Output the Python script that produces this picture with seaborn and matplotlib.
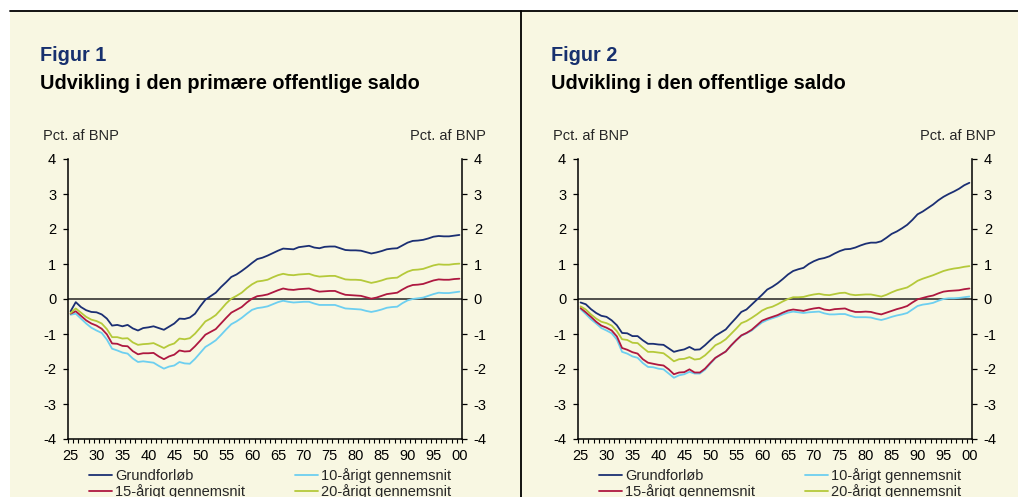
import numpy as np
import pandas as pd
import matplotlib
matplotlib.use("Agg")
import matplotlib.pyplot as plt
from matplotlib.patches import Rectangle
from matplotlib.lines import Line2D
from matplotlib.ticker import FixedLocator
import seaborn as sns

# ---------------- data ----------------
years = list(range(2025, 2101))
tick_years = [2025, 2030, 2035, 2040, 2045, 2050, 2055, 2060, 2065, 2070,
              2075, 2080, 2085, 2090, 2095, 2100]
tick_labels = ["25", "30", "35", "40", "45", "50", "55", "60", "65", "70",
               "75", "80", "85", "90", "95", "00"]
y_ticks = [-4, -3, -2, -1, 0, 1, 2, 3, 4]
y_labels = ["-4", "-3", "-2", "-1", "0", "1", "2", "3", "4"]

series_names = ["Grundforløb", "10-årigt gennemsnit", "15-årigt gennemsnit", "20-årigt gennemsnit"]
series_colors = ["#1B2F73", "#6DCFF0", "#AE1840", "#B5C93A"]

titles = ["Udvikling i den primære offentlige saldo", "Udvikling i den offentlige saldo"]
fig_labels = ["Figur 1", "Figur 2"]
unit_label = "Pct. af BNP"

# Figur 1: primary balance
p1_grund = [-0.35, -0.09, -0.23, -0.32, -0.37, -0.38, -0.44, -0.56, -0.76, -0.74,
            -0.78, -0.74, -0.84, -0.90, -0.83, -0.81, -0.78, -0.83, -0.88, -0.79,
            -0.70, -0.56, -0.57, -0.53, -0.42, -0.21, -0.02, 0.08, 0.18, 0.34,
            0.48, 0.63, 0.70, 0.80, 0.91, 1.03,
            1.14, 1.18, 1.24, 1.31, 1.38, 1.44, 1.43, 1.42, 1.48, 1.50,
            1.52, 1.47, 1.45, 1.49, 1.50, 1.50, 1.45, 1.40, 1.39, 1.39,
            1.38, 1.34, 1.30, 1.33, 1.37, 1.42, 1.44, 1.45, 1.53, 1.61,
            1.66, 1.67, 1.69, 1.73, 1.78, 1.80, 1.79, 1.79, 1.81, 1.83]
p1_10 = [-0.45, -0.42, -0.56, -0.70, -0.82, -0.90, -0.97, -1.16, -1.42, -1.47,
         -1.53, -1.56, -1.70, -1.80, -1.78, -1.80, -1.82, -1.91, -1.99, -1.93,
         -1.90, -1.80, -1.84, -1.85, -1.71, -1.54, -1.37, -1.28, -1.18, -1.03,
         -0.87, -0.72, -0.64, -0.54, -0.42, -0.31,
         -0.26, -0.24, -0.21, -0.15, -0.09, -0.05, -0.08, -0.10, -0.09, -0.08,
         -0.08, -0.13, -0.17, -0.17, -0.17, -0.17, -0.22, -0.27, -0.28, -0.29,
         -0.30, -0.34, -0.37, -0.34, -0.30, -0.25, -0.23, -0.22, -0.12, -0.04,
         0.00, 0.02, 0.04, 0.09, 0.14, 0.18, 0.17, 0.17, 0.19, 0.21]
p1_15 = [-0.42, -0.35, -0.48, -0.61, -0.70, -0.76, -0.85, -1.01, -1.27, -1.28,
         -1.34, -1.35, -1.49, -1.58, -1.55, -1.55, -1.54, -1.64, -1.72, -1.64,
         -1.59, -1.47, -1.50, -1.49, -1.35, -1.19, -1.02, -0.94, -0.86, -0.70,
         -0.54, -0.39, -0.31, -0.23, -0.10, 0.01,
         0.08, 0.10, 0.13, 0.19, 0.25, 0.30, 0.27, 0.26, 0.28, 0.29,
         0.30, 0.25, 0.21, 0.22, 0.23, 0.23, 0.17, 0.12, 0.11, 0.10,
         0.09, 0.05, 0.01, 0.04, 0.09, 0.14, 0.16, 0.18, 0.27, 0.35,
         0.40, 0.41, 0.43, 0.48, 0.53, 0.56, 0.55, 0.55, 0.57, 0.58]
p1_20 = [-0.40, -0.27, -0.39, -0.51, -0.59, -0.63, -0.70, -0.86, -1.09, -1.09,
         -1.13, -1.12, -1.24, -1.31, -1.29, -1.28, -1.26, -1.33, -1.40, -1.32,
         -1.27, -1.13, -1.15, -1.12, -0.99, -0.82, -0.64, -0.56, -0.46, -0.30,
         -0.13, 0.01, 0.09, 0.18, 0.31, 0.42,
         0.50, 0.52, 0.55, 0.62, 0.68, 0.72, 0.69, 0.68, 0.70, 0.71,
         0.72, 0.67, 0.64, 0.65, 0.66, 0.66, 0.61, 0.56, 0.55, 0.55,
         0.54, 0.50, 0.46, 0.49, 0.53, 0.58, 0.60, 0.61, 0.70, 0.78,
         0.83, 0.84, 0.86, 0.91, 0.96, 0.99, 0.98, 0.98, 1.00, 1.01]

# Figur 2: total balance
p2_grund = [-0.10, -0.15, -0.29, -0.40, -0.48, -0.51, -0.61, -0.75, -0.97, -0.98,
            -1.06, -1.06, -1.18, -1.28, -1.28, -1.30, -1.31, -1.41, -1.51, -1.47,
            -1.44, -1.37, -1.45, -1.44, -1.32, -1.18, -1.05, -0.96, -0.87, -0.70,
            -0.54, -0.37, -0.30, -0.16, -0.02, 0.12,
            0.27, 0.35, 0.45, 0.57, 0.70, 0.80, 0.85, 0.89, 1.00, 1.08,
            1.14, 1.17, 1.22, 1.30, 1.37, 1.42, 1.43, 1.47, 1.53, 1.58,
            1.61, 1.61, 1.65, 1.75, 1.86, 1.93, 2.02, 2.12, 2.26, 2.42,
            2.50, 2.60, 2.70, 2.82, 2.92, 3.00, 3.07, 3.15, 3.25, 3.32]
p2_10 = [-0.29, -0.43, -0.58, -0.70, -0.83, -0.90, -0.98, -1.16, -1.51, -1.56,
         -1.64, -1.68, -1.83, -1.94, -1.95, -1.99, -2.01, -2.13, -2.25, -2.18,
         -2.15, -2.08, -2.13, -2.13, -2.02, -1.85, -1.69, -1.59, -1.50, -1.34,
         -1.18, -1.05, -0.98, -0.90, -0.78,
         -0.67, -0.60, -0.55, -0.50, -0.44, -0.39, -0.36, -0.38, -0.40, -0.38,
         -0.37, -0.36, -0.41, -0.44, -0.44, -0.43, -0.43, -0.48, -0.52, -0.52,
         -0.52, -0.53, -0.57, -0.60, -0.56, -0.51, -0.47, -0.44, -0.40, -0.30,
         -0.20, -0.16, -0.14, -0.11, -0.05, 0.00, 0.02, 0.02, 0.03, 0.05, 0.07]
p2_15 = [-0.26, -0.38, -0.51, -0.65, -0.76, -0.82, -0.90, -1.07, -1.40, -1.45,
         -1.52, -1.56, -1.72, -1.82, -1.85, -1.88, -1.90, -2.01, -2.15, -2.10,
         -2.09, -2.01, -2.10, -2.10, -1.99, -1.83, -1.68, -1.59, -1.50, -1.33,
         -1.18, -1.04, -0.97, -0.88, -0.75,
         -0.62, -0.56, -0.51, -0.46, -0.39, -0.33, -0.30, -0.32, -0.34, -0.30,
         -0.27, -0.25, -0.30, -0.32, -0.29, -0.28, -0.27, -0.33, -0.37, -0.37,
         -0.36, -0.37, -0.41, -0.44, -0.39, -0.34, -0.29, -0.25, -0.20, -0.10,
         -0.01, 0.03, 0.07, 0.10, 0.16, 0.21, 0.23, 0.24, 0.25, 0.28, 0.30]
p2_20 = [-0.21, -0.30, -0.44, -0.56, -0.65, -0.69, -0.76, -0.92, -1.15, -1.17,
         -1.25, -1.26, -1.39, -1.51, -1.51, -1.53, -1.55, -1.66, -1.78, -1.72,
         -1.71, -1.66, -1.73, -1.71, -1.61, -1.47, -1.32, -1.25, -1.15, -1.00,
         -0.85, -0.69, -0.63, -0.54, -0.44,
         -0.33, -0.26, -0.22, -0.15, -0.07, 0.00, 0.05, 0.05, 0.06, 0.10,
         0.13, 0.15, 0.12, 0.11, 0.14, 0.17, 0.18, 0.13, 0.11, 0.12,
         0.13, 0.13, 0.10, 0.07, 0.12, 0.19, 0.25, 0.29, 0.33, 0.42,
         0.52, 0.58, 0.63, 0.68, 0.74, 0.80, 0.84, 0.87, 0.89, 0.92, 0.94]

panels = [[p1_grund, p1_10, p1_15, p1_20], [p2_grund, p2_10, p2_15, p2_20]]

# ---------------- style ----------------
sns.set_theme(style="ticks")
plt.rcParams["font.family"] = ["Liberation Sans", "DejaVu Sans"]
plt.rcParams["axes.unicode_minus"] = False

W, H = 1018, 497
BG = "#F8F7E2"
FS = 10.5
fig = plt.figure(figsize=(W / 100, H / 100), dpi=100, facecolor="white")

# background and frame lines
fig.patches.append(Rectangle((10 / W, 0), 1 - 10 / W, 1 - 11 / H, transform=fig.transFigure,
                             facecolor=BG, edgecolor="none", zorder=-10))
fig.add_artist(Line2D([10 / W, 1], [1 - 11 / H, 1 - 11 / H], transform=fig.transFigure,
                      color="black", lw=1.3, zorder=-5))
fig.add_artist(Line2D([520.5 / W, 520.5 / W], [0, 1 - 11 / H], transform=fig.transFigure,
                      color="black", lw=1.3, zorder=-5))

ax_left_px = [68, 578]
ax_w_px = 394
ax_top_px, ax_bot_px = 159, 439
title_x_px = [40, 551]
unit_left_px = [43, 553]
unit_right_px = [486, 996]

for i in range(2):
    ax = fig.add_axes([ax_left_px[i] / W, 1 - ax_bot_px / H, ax_w_px / W,
                       (ax_bot_px - ax_top_px) / H])
    ax.set_facecolor("none")
    ax.set_zorder(2)
    df = pd.DataFrame({"year": years * 4,
                       "value": sum(panels[i], []),
                       "serie": sum([[n] * len(years) for n in series_names], [])})
    sns.lineplot(data=df, x="year", y="value", hue="serie", hue_order=series_names,
                 palette=series_colors, linewidth=1.3, ax=ax, legend=False, zorder=3)
    ax.axhline(0, color="#222222", lw=1.1, zorder=2)

    ax.set_xlim(2024.5, 2100.5)
    ax.set_ylim(-4, 4)
    ax.set_xlabel("")
    ax.set_ylabel("")
    ax.set_xticks(tick_years)
    ax.set_xticklabels(tick_labels, fontsize=FS, color="black")
    ax.xaxis.set_minor_locator(FixedLocator(np.arange(2024.5, 2101, 1.0)))
    ax.tick_params(axis="x", which="major", length=0, pad=7)
    ax.tick_params(axis="x", which="minor", length=3, width=0.8, color="black", direction="out")
    ax.set_yticks(y_ticks)
    ax.set_yticklabels(y_labels, fontsize=FS, color="black")
    ax.tick_params(axis="y", which="major", left=True, right=True, labelleft=True,
                   labelright=True, length=3.5, width=0.9, color="black", pad=5)
    for s in ["left", "right", "bottom"]:
        ax.spines[s].set_visible(True)
        ax.spines[s].set_color("black")
        ax.spines[s].set_linewidth(1.1)
    ax.spines["top"].set_visible(False)

    # titles
    fig.text(title_x_px[i] / W, 1 - 61 / H, fig_labels[i], fontsize=14.3, fontweight="bold",
             color="#17306E", va="baseline", ha="left")
    fig.text(title_x_px[i] / W, 1 - 89 / H, titles[i], fontsize=14.3, fontweight="bold",
             color="black", va="baseline", ha="left")
    fig.text(unit_left_px[i] / W, 1 - 140 / H, unit_label, fontsize=FS,
             va="baseline", ha="left")
    fig.text(unit_right_px[i] / W, 1 - 140 / H, unit_label, fontsize=FS,
             va="baseline", ha="right")

    # legend
    handles = [Line2D([], [], color=c, lw=1.3) for c in series_colors]
    order = [0, 2, 1, 3]
    ax.legend([handles[k] for k in order], [series_names[k] for k in order],
              ncol=2, loc="upper left",
              bbox_to_anchor=((ax_left_px[i] + 21) / W, 1 - 468 / H),
              bbox_transform=fig.transFigure, frameon=False, fontsize=FS,
              handlelength=1.6, handletextpad=0.2, columnspacing=3.4,
              labelspacing=0.1, borderpad=0, borderaxespad=0)

fig.savefig("out.png", dpi=100, facecolor="white")
